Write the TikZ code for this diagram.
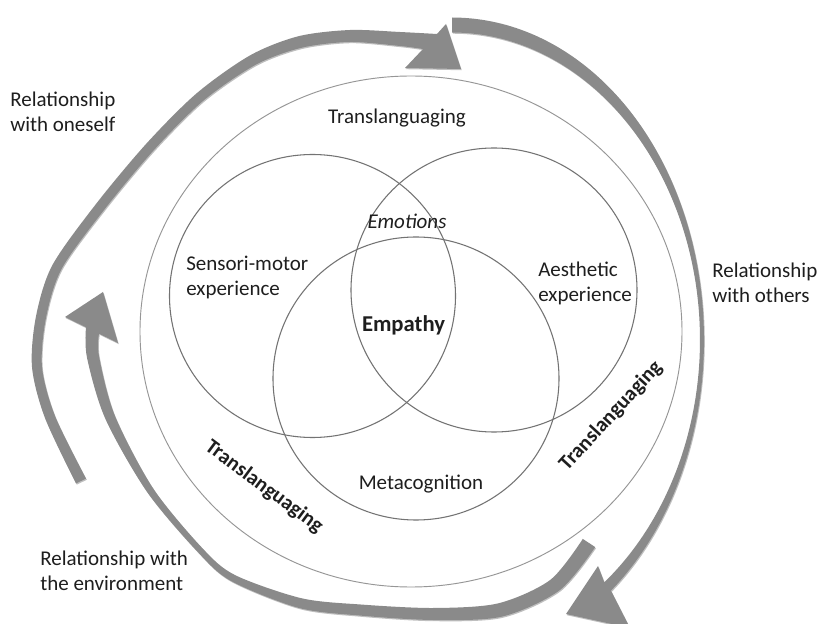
\documentclass[tikz,border=0pt]{standalone}
\usepackage{fontspec}
\setmainfont{Carlito}
\usepackage{tikz}
\usetikzlibrary{shadows}

\definecolor{bandgray}{RGB}{138,138,138}
\definecolor{ringgray}{RGB}{150,150,150}
\definecolor{venngray}{RGB}{115,115,115}
\definecolor{textgray}{RGB}{30,30,30}

\begin{document}
\begin{tikzpicture}[x=0.75pt, y=-0.75pt,
  declare function={bw(\t)=4+11*sin(\t)^2;},
  band/.style={fill=bandgray, drop shadow={shadow xshift=0.6pt, shadow yshift=-0.9pt, fill=black, opacity=0.25}},
  ring/.style={draw=ringgray, line width=0.7pt},
  venn/.style={draw=venngray, line width=0.8pt},
  lbl/.style={inner sep=0pt, text=textgray, font=\fontsize{15.75}{18.5}\selectfont, align=left},
  tlab/.style={lbl, font=\fontsize{15.75}{18.5}\selectfont\bfseries}]
\useasboundingbox (0,0) rectangle (819,624);
\clip (0,0) rectangle (819,624);
\fill[white] (0,0) rectangle (819,624);

\fill[band] plot[smooth] coordinates {(76,483.4) (45,418) (32,367) (36,316.3) (52.3,265.3) (96,204) (146.5,143.5) (196.9,93.1) (250.4,55.2) (298.6,36.2) (350,30) (400,32) (437,34)}
  -- (446,24) -- (461,69) -- (405,68) -- (423,49)
  -- plot[smooth] coordinates {(423,49) (400,46) (350,42) (301.4,47.8) (255.6,64.8) (203.1,100.9) (153.5,150.5) (104,210) (61.7,268.7) (46,317.7) (42,367) (55,416) (86,478.6)} -- cycle;
\fill[band] plot[domain=90:-51.5, samples=60, smooth] ({452+(250+bw(\x)/2)*cos(\x)}, {340-(315+bw(\x)/2)*sin(\x)})
  -- (630,628) -- (566,614) -- (598,566)
  -- plot[domain=-51.5:90, samples=60, smooth] ({452+(250-bw(\x)/2)*cos(\x)}, {340-(315-bw(\x)/2)*sin(\x)}) -- cycle;
\fill[band] plot[smooth] coordinates {(595.2,547.1) (559.6,590.3) (502,616.6) (433,620) (359.3,615.5) (298.7,607.9) (231.1,581) (197.9,552.1) (147,491.75) (105.25,418.5) (87,357.6) (86,327.3)}
  -- (65,317) -- (103,292) -- (118,343) -- (99,333.7)
  -- plot[smooth] coordinates {(99,333.7) (99,356.4) (114.75,415.5) (153,488.25) (202.1,547.9) (234.9,575) (301.3,598.2) (360.7,604.5) (433,608) (498,603.4) (550.4,579.8) (582.8,538.9)} -- cycle;

\coordinate (c_big) at (411,331.5);
\coordinate (c_sens) at (312.5,296);
\coordinate (c_aes) at (494,290);
\coordinate (c_meta) at (416,378.5);
\draw[ring] (c_big) ellipse [x radius=271, y radius=255.5];
\draw[venn] (c_sens) ellipse [x radius=143, y radius=141.5];
\draw[venn] (c_aes) ellipse [x radius=143, y radius=142];
\draw[venn] (c_meta) ellipse [x radius=143, y radius=141.5];

\node[lbl, anchor=west] (rel_self) at (10,112) {Relationship\\with oneself};
\node[lbl, anchor=west] (rel_others) at (712,283) {Relationship\\with others};
\node[lbl, anchor=west] (rel_env) at (40,571) {Relationship with\\the environment};
\node[lbl, anchor=base] (trans_top) at (397,124) {Translanguaging};
\node[tlab, rotate=-36.6] (trans_left) at (264,487) {Translanguaging};
\node[tlab, rotate=47.5] (trans_right) at (611,416) {Translanguaging};
\node[lbl, anchor=base, font=\fontsize{15.75}{18.5}\selectfont\itshape] (emo) at (407,229) {Emotions};
\node[lbl, anchor=base, font=\fontsize{17}{20}\selectfont\bfseries] (emp) at (403.5,332) {Empathy};
\node[lbl, anchor=west] (sens) at (186,277.5) {Sensori-motor\\experience};
\node[lbl, anchor=west] (aes) at (538,283.5) {Aesthetic\\experience};
\node[lbl, anchor=base] (meta) at (421,489) {Metacognition};
\end{tikzpicture}
\end{document}
